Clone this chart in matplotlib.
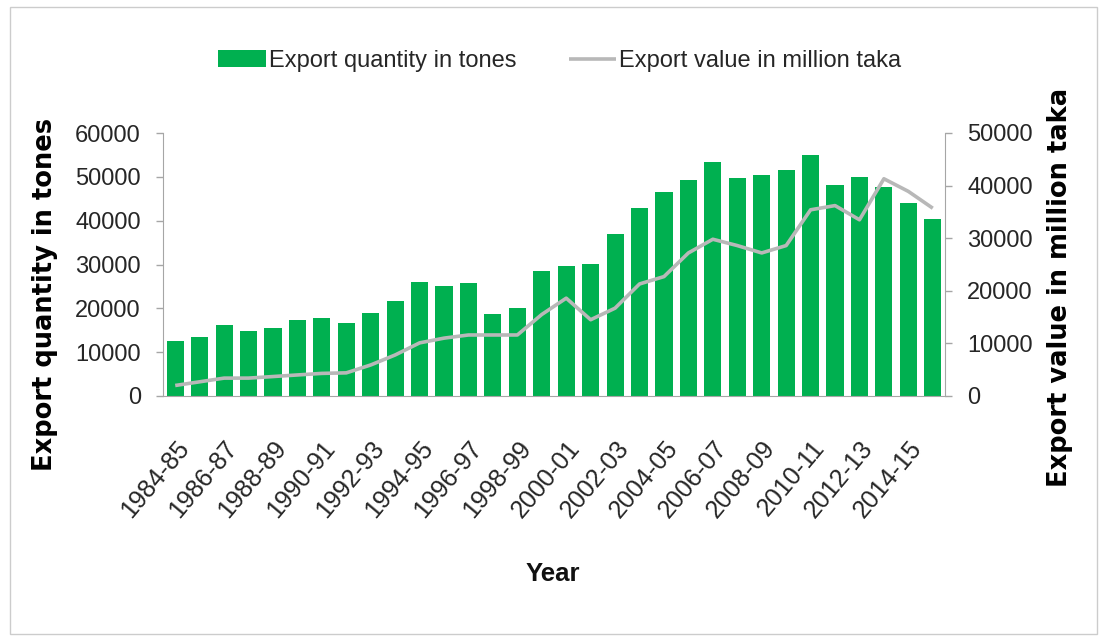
import numpy as np
import matplotlib
matplotlib.use("Agg")
import matplotlib.pyplot as plt
from matplotlib.patches import Rectangle

plt.rcParams['font.family'] = ['Liberation Sans', 'DejaVu Sans']

# fiscal years on the x axis
seasons = ['1984-85', '1985-86', '1986-87', '1987-88', '1988-89', '1989-90',
           '1990-91', '1991-92', '1992-93', '1993-94', '1994-95', '1995-96',
           '1996-97', '1997-98', '1998-99', '1999-00', '2000-01', '2001-02',
           '2002-03', '2003-04', '2004-05', '2005-06', '2006-07', '2007-08',
           '2008-09', '2009-10', '2010-11', '2011-12', '2012-13', '2013-14',
           '2014-15', '2015-16']

# export quantity (tones), left axis
quantity = [12500, 13400, 16100, 14900, 15400, 17300, 17700, 16600,
            18900, 21700, 26100, 25000, 25700, 18600, 20100, 28500,
            29700, 30100, 36900, 42900, 46500, 49300, 53300, 49700,
            50500, 51600, 54900, 48100, 50000, 47600, 44100, 40400]

# export value (million taka), right axis
value = [2000, 2700, 3400, 3400, 3700, 4000, 4300, 4400,
         5900, 7800, 10100, 11000, 11600, 11600, 11600, 15500,
         18600, 14500, 16700, 21300, 22700, 27200, 29800, 28600,
         27200, 28600, 35400, 36200, 33500, 41300, 38900, 35700]

left_ticks = [0, 10000, 20000, 30000, 40000, 50000, 60000]
right_ticks = [0, 10000, 20000, 30000, 40000, 50000]

bar_green = '#00b050'
line_gray = '#b8b8b8'
axis_gray = '#a6a6a6'
text_col = '#262626'

W, H = 1099, 637
fig = plt.figure(figsize=(W / 100, H / 100), dpi=100)

# plot box in pixels: x 163..945, y 133..396 (from top)
ax = fig.add_axes([163 / W, 1 - 396 / H, (945 - 163) / W, (396 - 133) / H])
x = np.arange(len(seasons))

ax.bar(x, quantity, width=0.7, color=bar_green, zorder=2,
       label='Export quantity in tones')
ax.set_xlim(-0.5, len(seasons) - 0.5)
ax.set_ylim(0, 60000)
ax.set_yticks(left_ticks)
ax.set_yticklabels([str(t) for t in left_ticks])
ax.set_xticks(x[::2])
ax.set_xticklabels(seasons[::2], rotation=50, ha='right', va='top',
                   rotation_mode='anchor')

ax2 = ax.twinx()
ax2.plot(x, value, color=line_gray, lw=2.6, solid_capstyle='butt',
         label='Export value in million taka')
ax2.set_ylim(0, 50000)
ax2.set_yticks(right_ticks)
ax2.set_yticklabels([str(t) for t in right_ticks])

# spines and ticks
for a in (ax, ax2):
    a.spines['top'].set_visible(False)
ax.spines['right'].set_visible(False)
ax2.spines['left'].set_visible(False)
ax2.spines['bottom'].set_visible(False)
ax.spines['left'].set_color(axis_gray)
ax.spines['bottom'].set_color(axis_gray)
ax2.spines['right'].set_color(axis_gray)

ax.tick_params(axis='y', direction='out', length=5, width=1, color=axis_gray,
               labelsize=17, labelcolor=text_col, pad=11)
ax.tick_params(axis='x', length=0, labelsize=18, labelcolor=text_col, pad=29)
ax2.tick_params(axis='y', direction='out', length=5, width=1, color=axis_gray,
                labelsize=17, labelcolor=text_col, pad=11)

# axis titles
fig.text(45 / W, 1 - 294 / H, 'Export quantity in tones', rotation=90,
         ha='center', va='center', fontsize=18.5, fontweight='bold',
         family='DejaVu Sans', color='black')
fig.text(1060 / W, 1 - 287 / H, 'Export value in million taka', rotation=90,
         ha='center', va='center', fontsize=18.5, fontweight='bold',
         family='DejaVu Sans', color='black')
fig.text(553 / W, 1 - 574 / H, 'Year', ha='center', va='center',
         fontsize=18.5, fontweight='bold', color='#111111')

# legend on top
h1, l1 = ax.get_legend_handles_labels()
h2, l2 = ax2.get_legend_handles_labels()
fig.legend(h1 + h2, l1 + l2, loc='center', bbox_to_anchor=(560 / W, 1 - 61 / H),
           ncol=2, frameon=False, fontsize=17, handlelength=2.0,
           handleheight=0.7, handletextpad=0.15, columnspacing=2.2,
           labelcolor=text_col)

# thin outer frame
fig.patches.append(Rectangle((10 / W, 1 - 634 / H), (1097 - 10) / W,
                             (634 - 7) / H, transform=fig.transFigure,
                             fill=False, edgecolor='#cccccc', lw=1))

fig.savefig('out.png', dpi=100)
